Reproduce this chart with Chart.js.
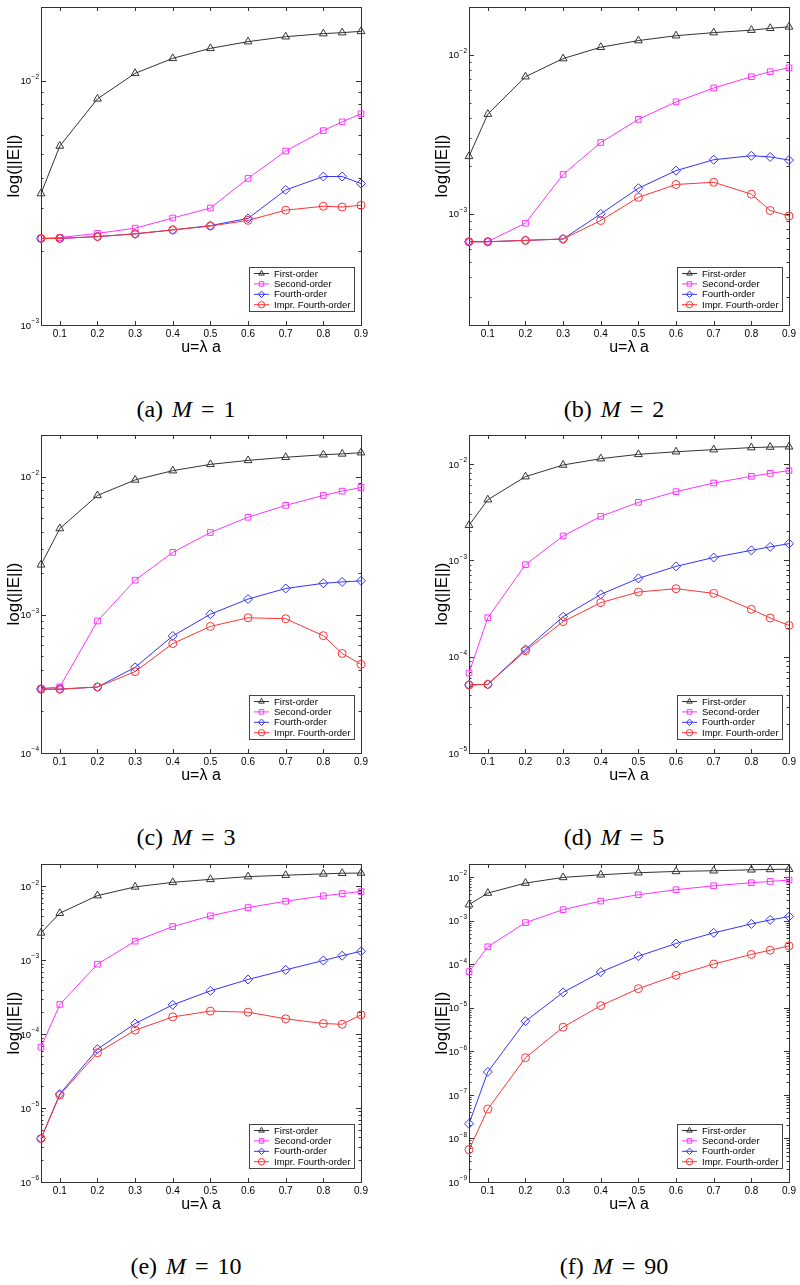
<!DOCTYPE html>
<html>
<head>
<meta charset="utf-8">
<script src="https://cdn.jsdelivr.net/npm/chart.js@4.4.1/dist/chart.umd.min.js"></script>
<style>
    body { margin: 0; background: #fff; }
    #page { position: relative; width: 800px; height: 1285px; overflow: hidden; }
    .panel { position: absolute; width: 372px; height: 360px; }
    .caption {
        position: absolute; width: 372px; text-align: center;
        font-family: "Liberation Serif", serif; font-size: 24px; line-height: 24px;
        word-spacing: 3px; color: #000;
    }
</style>
</head>
<body>
<div id="page"></div>
<script>
// x values and tick labels
const uValues = [0.05, 0.1, 0.2, 0.3, 0.4, 0.5, 0.6, 0.7, 0.8, 0.85, 0.9];
const xTicks = [0.1, 0.2, 0.3, 0.4, 0.5, 0.6, 0.7, 0.8, 0.9];
const seriesLabels = ['First-order', 'Second-order', 'Fourth-order', 'Impr. Fourth-order'];

// (a) M = 1
const firstM1 = [3.45e-3, 5.40e-3, 8.42e-3, 1.071e-2, 1.233e-2, 1.355e-2, 1.443e-2, 1.512e-2, 1.556e-2, 1.571e-2, 1.590e-2];
const secondM1 = [2.26e-3, 2.28e-3, 2.37e-3, 2.49e-3, 2.74e-3, 3.01e-3, 3.98e-3, 5.15e-3, 6.24e-3, 6.78e-3, 7.31e-3];
const fourthM1 = [2.26e-3, 2.26e-3, 2.30e-3, 2.36e-3, 2.45e-3, 2.55e-3, 2.73e-3, 3.57e-3, 4.05e-3, 4.05e-3, 3.79e-3];
const imprM1 = [2.26e-3, 2.26e-3, 2.30e-3, 2.36e-3, 2.45e-3, 2.54e-3, 2.68e-3, 2.95e-3, 3.06e-3, 3.04e-3, 3.09e-3];

// (b) M = 2
const firstM2 = [2.30e-3, 4.24e-3, 7.29e-3, 9.48e-3, 1.117e-2, 1.23e-2, 1.32e-2, 1.38e-2, 1.43e-2, 1.47e-2, 1.50e-2];
const secondM2 = [6.68e-4, 6.70e-4, 8.74e-4, 1.77e-3, 2.81e-3, 3.93e-3, 5.06e-3, 6.19e-3, 7.29e-3, 7.83e-3, 8.29e-3];
const fourthM2 = [6.68e-4, 6.68e-4, 6.81e-4, 6.95e-4, 1.00e-3, 1.45e-3, 1.87e-3, 2.19e-3, 2.32e-3, 2.28e-3, 2.18e-3];
const imprM2 = [6.68e-4, 6.68e-4, 6.81e-4, 6.95e-4, 9.08e-4, 1.27e-3, 1.53e-3, 1.58e-3, 1.33e-3, 1.05e-3, 9.70e-4];

// (c) M = 3
const firstM3 = [2.30e-3, 4.21e-3, 7.31e-3, 9.46e-3, 1.104e-2, 1.226e-2, 1.31e-2, 1.38e-2, 1.44e-2, 1.46e-2, 1.49e-2];
const secondM3 = [2.93e-4, 3.01e-4, 9.02e-4, 1.78e-3, 2.83e-3, 3.94e-3, 5.08e-3, 6.19e-3, 7.31e-3, 7.85e-3, 8.34e-3];
const fourthM3 = [2.90e-4, 2.90e-4, 3.00e-4, 4.17e-4, 7.03e-4, 1.01e-3, 1.30e-3, 1.55e-3, 1.69e-3, 1.73e-3, 1.76e-3];
const imprM3 = [2.90e-4, 2.90e-4, 3.00e-4, 3.88e-4, 6.19e-4, 8.24e-4, 9.52e-4, 9.36e-4, 7.06e-4, 5.25e-4, 4.38e-4];

// (d) M = 5
const firstM5 = [2.31e-3, 4.26e-3, 7.39e-3, 9.77e-3, 1.136e-2, 1.26e-2, 1.34e-2, 1.41e-2, 1.48e-2, 1.50e-2, 1.51e-2];
const secondM5 = [6.77e-5, 2.54e-4, 9.02e-4, 1.79e-3, 2.86e-3, 4.00e-3, 5.16e-3, 6.35e-3, 7.45e-3, 8.00e-3, 8.53e-3];
const fourthM5 = [5.09e-5, 5.16e-5, 1.19e-4, 2.60e-4, 4.43e-4, 6.50e-4, 8.66e-4, 1.07e-3, 1.27e-3, 1.38e-3, 1.49e-3];
const imprM5 = [5.09e-5, 5.16e-5, 1.15e-4, 2.31e-4, 3.64e-4, 4.69e-4, 5.08e-4, 4.54e-4, 3.10e-4, 2.52e-4, 2.11e-4];

// (e) M = 10
const firstM10 = [2.34e-3, 4.32e-3, 7.48e-3, 9.80e-3, 1.13e-2, 1.24e-2, 1.35e-2, 1.41e-2, 1.47e-2, 1.50e-2, 1.51e-2];
const secondM10 = [6.67e-5, 2.52e-4, 8.83e-4, 1.81e-3, 2.85e-3, 3.98e-3, 5.15e-3, 6.27e-3, 7.40e-3, 7.96e-3, 8.47e-3];
const fourthM10 = [3.86e-6, 1.55e-5, 6.27e-5, 1.39e-4, 2.49e-4, 3.85e-4, 5.48e-4, 7.40e-4, 9.90e-4, 1.15e-3, 1.32e-3];
const imprM10 = [3.86e-6, 1.50e-5, 5.60e-5, 1.13e-4, 1.71e-4, 2.05e-4, 1.98e-4, 1.61e-4, 1.39e-4, 1.36e-4, 1.82e-4];

// (f) M = 90
const firstM90 = [2.33e-3, 4.30e-3, 7.29e-3, 9.83e-3, 1.13e-2, 1.26e-2, 1.35e-2, 1.40e-2, 1.47e-2, 1.50e-2, 1.52e-2];
const secondM90 = [6.73e-5, 2.51e-4, 9.03e-4, 1.79e-3, 2.82e-3, 3.94e-3, 5.13e-3, 6.33e-3, 7.42e-3, 7.96e-3, 8.54e-3];
const fourthM90 = [2.17e-8, 3.36e-7, 4.92e-6, 2.26e-5, 6.60e-5, 1.53e-4, 2.99e-4, 5.25e-4, 8.42e-4, 1.04e-3, 1.24e-3];
const imprM90 = [5.52e-9, 4.70e-8, 7.14e-7, 3.59e-6, 1.12e-5, 2.75e-5, 5.55e-5, 1.01e-4, 1.68e-4, 2.10e-4, 2.64e-4];

// y ranges and captions per panel
const panelLetters = ['a', 'b', 'c', 'd', 'e', 'f'];
const panelM = [1, 2, 3, 5, 10, 90];
const panelYMin = [1e-3, 2e-4, 1e-4, 1e-5, 1e-6, 1e-9];
const panelYMax = [2e-2, 2e-2, 2e-2, 2e-2, 2e-2, 2e-2];
const panelSeries = [
    [firstM1, secondM1, fourthM1, imprM1],
    [firstM2, secondM2, fourthM2, imprM2],
    [firstM3, secondM3, fourthM3, imprM3],
    [firstM5, secondM5, fourthM5, imprM5],
    [firstM10, secondM10, fourthM10, imprM10],
    [firstM90, secondM90, fourthM90, imprM90]
];

const seriesColors = ['#333333', '#ff33ff', '#3333ff', '#ff3333'];
const seriesPoints = ['triangle', 'rect', 'rectRot', 'circle'];
const seriesRadius = [4.5, 4, 4.5, 4];
const SANS = '"Liberation Sans", Arial, sans-serif';

// Box, inward ticks and 10^n labels
const axesBox = {
    id: 'axesBox',
    beforeDatasetsDraw(chart) {
        const { ctx, chartArea: a, scales: { x, y } } = chart;
        ctx.save();
        ctx.strokeStyle = '#333';
        ctx.lineWidth = 1;
        ctx.beginPath();
        x.ticks.forEach(t => {
            const px = Math.round(x.getPixelForValue(t.value)) + 0.5;
            ctx.moveTo(px, a.bottom); ctx.lineTo(px, a.bottom - 4);
            ctx.moveTo(px, a.top); ctx.lineTo(px, a.top + 4);
        });
        const eMin = Math.floor(Math.log10(y.min));
        const eMax = Math.ceil(Math.log10(y.max));
        for (let e = eMin; e <= eMax; e++) {
            for (let m = 1; m < 10; m++) {
                const v = m * Math.pow(10, e);
                if (v < y.min * 0.999 || v > y.max * 1.001) continue;
                const py = Math.round(y.getPixelForValue(v)) + 0.5;
                const len = m === 1 ? 5 : 2.5;
                ctx.moveTo(a.left, py); ctx.lineTo(a.left + len, py);
                ctx.moveTo(a.right, py); ctx.lineTo(a.right - len, py);
            }
        }
        ctx.stroke();
        ctx.strokeRect(a.left + 0.5, a.top + 0.5, a.width, a.height);

        // decade labels
        ctx.fillStyle = '#000';
        ctx.textBaseline = 'middle';
        ctx.textAlign = 'right';
        y.ticks.forEach(t => {
            const py = y.getPixelForValue(t.value);
            const exp = '\u2212' + Math.abs(Math.round(Math.log10(t.value)));
            ctx.font = '6.5px ' + SANS;
            const ew = ctx.measureText(exp).width;
            ctx.fillText(exp, a.left - 2, py - 3.5);
            ctx.font = '9.5px ' + SANS;
            ctx.fillText('10', a.left - 2 - ew - 0.5, py + 1);
        });
        ctx.restore();
    }
};

// Legend drawn inside the plot, bottom right
const insideLegend = {
    id: 'insideLegend',
    afterDatasetsDraw(chart) {
        const { ctx, chartArea: a } = chart;
        const w = 105, h = 44;
        const x0 = Math.round(a.right - 7 - w), y0 = Math.round(a.bottom - 14 - h);
        ctx.save();
        ctx.fillStyle = '#fff';
        ctx.fillRect(x0, y0, w, h);
        ctx.strokeStyle = '#444';
        ctx.lineWidth = 1;
        ctx.strokeRect(x0 + 0.5, y0 + 0.5, w, h);
        chart.data.datasets.forEach((ds, i) => {
            const cy = y0 + 6.5 + i * 10.4;
            ctx.strokeStyle = ds.borderColor;
            ctx.beginPath();
            ctx.moveTo(x0 + 5, cy); ctx.lineTo(x0 + 20, cy);
            ctx.stroke();
            ctx.fillStyle = 'rgba(0,0,0,0)';
            Chart.helpers.drawPoint(ctx, { pointStyle: ds.pointStyle, radius: 3.2, borderWidth: 1, rotation: 0 }, x0 + 12.5, cy);
            ctx.fillStyle = '#000';
            ctx.font = '9.5px ' + SANS;
            ctx.textBaseline = 'middle';
            ctx.textAlign = 'left';
            ctx.fillText(ds.label, x0 + 25, cy + 0.5);
        });
        ctx.restore();
    }
};

document.addEventListener('DOMContentLoaded', function() {
    const page = document.getElementById('page');
    const colLeft = [0, 428];
    const rowTop = [0, 428, 857];

    panelSeries.forEach((series, p) => {
        const left = colLeft[p % 2];
        const top = rowTop[Math.floor(p / 2)];

        const div = document.createElement('div');
        div.className = 'panel';
        div.style.left = left + 'px';
        div.style.top = top + 'px';
        const canvas = document.createElement('canvas');
        canvas.width = 372;
        canvas.height = 360;
        div.appendChild(canvas);
        page.appendChild(div);

        const cap = document.createElement('div');
        cap.className = 'caption';
        cap.style.left = left + 'px';
        cap.style.top = (top + 7 + 390) + 'px';
        cap.innerHTML = '(' + panelLetters[p] + ') <i>M</i> = ' + panelM[p];
        page.appendChild(cap);

        const datasets = series.map((vals, i) => ({
            label: seriesLabels[i],
            data: uValues.map((u, k) => ({ x: u, y: vals[k] })),
            borderColor: seriesColors[i],
            backgroundColor: 'rgba(0,0,0,0)',
            borderWidth: 1,
            pointStyle: seriesPoints[i],
            pointRadius: seriesRadius[i],
            pointBorderWidth: 1,
            pointBackgroundColor: 'rgba(0,0,0,0)',
            tension: 0,
            clip: false,
            order: 3 - i
        }));

        new Chart(canvas, {
            type: 'line',
            data: { datasets: datasets },
            options: {
                responsive: false,
                animation: false,
                devicePixelRatio: 1,
                layout: { padding: { top: 7, right: 11, bottom: 0, left: 0 } },
                plugins: {
                    legend: { display: false },
                    tooltip: { enabled: false }
                },
                scales: {
                    x: {
                        type: 'linear',
                        min: 0.05,
                        max: 0.9,
                        afterBuildTicks: s => { s.ticks = xTicks.map(v => ({ value: v })); },
                        afterFit: s => { s.height = 35; },
                        grid: { display: false, drawTicks: false },
                        border: { display: false },
                        ticks: {
                            autoSkip: false,
                            maxRotation: 0,
                            padding: 3,
                            color: '#000',
                            font: { family: SANS, size: 10 },
                            callback: v => v.toFixed(1)
                        },
                        title: {
                            display: true,
                            text: 'u=\u03bb a',
                            color: '#000',
                            font: { family: SANS, size: 16, lineHeight: 1.2 },
                            padding: { top: 0, bottom: 3 }
                        }
                    },
                    y: {
                        type: 'logarithmic',
                        min: panelYMin[p],
                        max: panelYMax[p],
                        afterBuildTicks: s => {
                            const ticks = [];
                            for (let e = Math.ceil(Math.log10(s.min) - 1e-9); Math.pow(10, e) <= s.max; e++) {
                                ticks.push({ value: Math.pow(10, e) });
                            }
                            s.ticks = ticks;
                        },
                        afterFit: s => { s.width = 41; },
                        grid: { display: false, drawTicks: false },
                        border: { display: false },
                        ticks: { display: false },
                        title: {
                            display: true,
                            text: 'log(||E||)',
                            color: '#000',
                            font: { family: SANS, size: 17, lineHeight: 1.2 },
                            padding: { top: 4, bottom: 0 }
                        }
                    }
                }
            },
            plugins: [axesBox, insideLegend]
        });
    });
});
</script>
</body>
</html>
